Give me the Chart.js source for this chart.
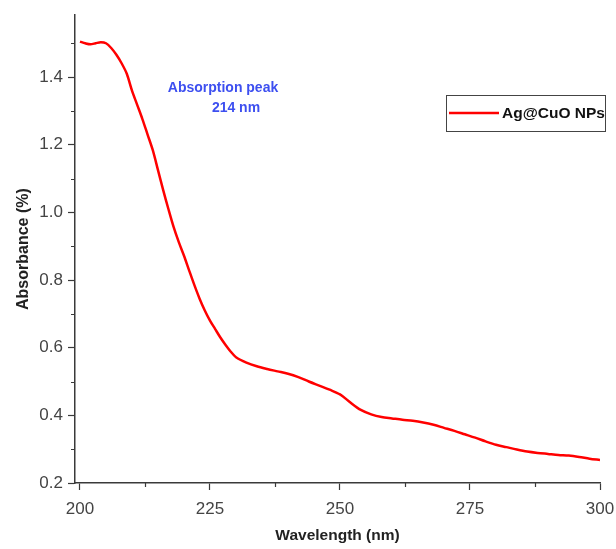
<!DOCTYPE html>
<html>
<head>
<meta charset="utf-8">
<script src="https://cdn.jsdelivr.net/npm/chart.js@4.4.1/dist/chart.umd.min.js"></script>
<style>
  html, body { margin: 0; padding: 0; background: #fff; }
  #wrap { width: 616px; height: 549px; position: relative; }
</style>
</head>
<body>
<div id="wrap"><canvas id="myChart"></canvas></div>
<script>
// UV-Vis spectrum of Ag@CuO nanoparticles
const wavelengths = [200, 201, 202, 203, 204, 205, 206, 207, 208, 209,
    210, 211, 212, 213, 214, 215, 216, 217, 218, 219,
    220, 221, 222, 223, 224, 225, 226, 227, 228, 229, 230,
    232, 234, 236, 238, 240, 242, 244, 246, 248, 250,
    252, 254, 256, 258, 260, 262, 264, 266, 268, 270,
    272, 274, 276, 278, 280, 282, 284, 286, 288, 290,
    292, 294, 296, 298, 300];
const absorbance = [1.505, 1.500, 1.497, 1.500, 1.503, 1.500, 1.486, 1.466, 1.441, 1.410,
    1.360, 1.318, 1.276, 1.230, 1.184, 1.125, 1.066, 1.010, 0.957, 0.912,
    0.872, 0.828, 0.785, 0.745, 0.710, 0.680, 0.655, 0.630, 0.608, 0.588, 0.572,
    0.556, 0.545, 0.537, 0.530, 0.523, 0.513, 0.500, 0.488, 0.476, 0.462,
    0.438, 0.416, 0.403, 0.395, 0.391, 0.387, 0.384, 0.379, 0.372, 0.363,
    0.354, 0.344, 0.334, 0.323, 0.313, 0.306, 0.299, 0.293, 0.289, 0.286,
    0.283, 0.281, 0.277, 0.272, 0.268];

const xTicks = [200, 225, 250, 275, 300];
const xMinorTicks = [212.5, 237.5, 262.5, 287.5];
const yTicks = [0.2, 0.4, 0.6, 0.8, 1.0, 1.2, 1.4];
const yMinorTicks = [0.3, 0.5, 0.7, 0.9, 1.1, 1.3, 1.5];

const seriesLabel = 'Ag@CuO NPs';
const noteLines = ['Absorption peak', '214 nm'];

const axisColor = '#3a3a3a';
const fontFamily = '"Liberation Sans", Arial, sans-serif';

// short minor ticks, drawn outward from the axis lines
const minorTicks = {
    id: 'minorTicks',
    afterDraw(chart) {
        const ctx = chart.ctx;
        const x = chart.scales.x, y = chart.scales.y;
        ctx.save();
        ctx.strokeStyle = axisColor;
        ctx.lineWidth = 1.2;
        ctx.beginPath();
        xMinorTicks.forEach(v => {
            const px = Math.round(x.getPixelForValue(v)) + 0.5;
            ctx.moveTo(px, y.bottom);
            ctx.lineTo(px, y.bottom + 4);
        });
        yMinorTicks.forEach(v => {
            const py = Math.round(y.getPixelForValue(v)) + 0.5;
            ctx.moveTo(x.left, py);
            ctx.lineTo(x.left - 4, py);
        });
        ctx.stroke();
        ctx.restore();
    }
};

// legend box and peak note inside the plot
const overlay = {
    id: 'overlay',
    afterDraw(chart) {
        const ctx = chart.ctx;
        ctx.save();
        // legend
        ctx.strokeStyle = '#444';
        ctx.lineWidth = 1;
        ctx.strokeRect(446.5, 95.5, 159, 36);
        ctx.strokeStyle = chart.data.datasets[0].borderColor;
        ctx.lineWidth = 2.5;
        ctx.beginPath();
        ctx.moveTo(449, 113);
        ctx.lineTo(499, 113);
        ctx.stroke();
        ctx.fillStyle = '#111';
        ctx.font = 'bold 15.5px ' + fontFamily;
        ctx.textBaseline = 'middle';
        ctx.textAlign = 'left';
        ctx.fillText(chart.data.datasets[0].label, 502, 114);
        // note
        ctx.fillStyle = '#3d4ff0';
        ctx.font = 'bold 14px ' + fontFamily;
        ctx.textAlign = 'center';
        ctx.fillText(noteLines[0], 223, 88);
        ctx.fillText(noteLines[1], 236, 108);
        ctx.restore();
    }
};

document.addEventListener('DOMContentLoaded', function() {
    const ctx = document.getElementById('myChart').getContext('2d');
    new Chart(ctx, {
        type: 'line',
        data: {
            datasets: [{
                label: seriesLabel,
                data: wavelengths.map((w, i) => ({ x: w, y: absorbance[i] })),
                borderColor: '#ff0000',
                borderWidth: 2.5,
                pointRadius: 0,
                tension: 0.3,
                fill: false
            }]
        },
        options: {
            responsive: true,
            maintainAspectRatio: false,
            animation: false,
            layout: { padding: { top: 15, right: 16, left: 0, bottom: 0 } },
            plugins: {
                legend: { display: false },
                tooltip: { enabled: false }
            },
            scales: {
                x: {
                    type: 'linear',
                    min: 199.04,
                    max: 300,
                    afterBuildTicks: s => { s.ticks = xTicks.map(v => ({ value: v })); },
                    afterFit: s => { s.height = 66; s.paddingRight = 16; },
                    border: { color: axisColor, width: 1.5 },
                    grid: { drawOnChartArea: false, tickLength: 7, tickColor: axisColor, tickWidth: 1.2 },
                    ticks: {
                        color: '#444',
                        padding: 9,
                        maxRotation: 0,
                        font: { family: fontFamily, size: 17 }
                    },
                    title: {
                        display: true,
                        text: 'Wavelength (nm)',
                        color: '#222',
                        padding: { top: 8 },
                        font: { family: fontFamily, size: 15.5, weight: 'bold' }
                    }
                },
                y: {
                    min: 0.2,
                    max: 1.583,
                    afterBuildTicks: s => { s.ticks = yTicks.map(v => ({ value: v })); },
                    afterFit: s => { s.width = 75; },
                    border: { color: axisColor, width: 1.5 },
                    grid: { drawOnChartArea: false, tickLength: 7, tickColor: axisColor, tickWidth: 1.2 },
                    ticks: {
                        color: '#444',
                        padding: 5,
                        callback: v => v.toFixed(1),
                        font: { family: fontFamily, size: 17 }
                    },
                    title: {
                        display: true,
                        text: 'Absorbance (%)',
                        color: '#222',
                        padding: { top: 14, bottom: 0 },
                        font: { family: fontFamily, size: 16, weight: 'bold' }
                    }
                }
            }
        },
        plugins: [minorTicks, overlay]
    });
});
</script>
</body>
</html>
